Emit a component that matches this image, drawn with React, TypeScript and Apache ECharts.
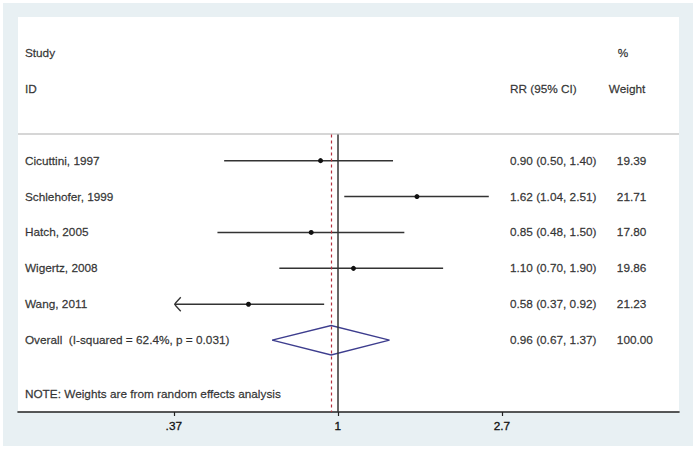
import React, { useEffect, useRef } from "react";
import * as echarts from "echarts";

const studies = ["Cicuttini, 1997", "Schlehofer, 1999", "Hatch, 2005", "Wigertz, 2008", "Wang, 2011"];
const rr = [0.9, 1.62, 0.85, 1.1, 0.58];
const lower = [0.5, 1.04, 0.48, 0.7, 0.37];
const upper = [1.4, 2.51, 1.5, 1.9, 0.92];
const weights = ["19.39", "21.71", "17.80", "19.86", "21.23"];
const overallLabel = "Overall  (I-squared = 62.4%, p = 0.031)";
const overallRR = 0.96;
const overallLower = 0.67;
const overallUpper = 1.37;
const overallWeight = "100.00";
const noteText = "NOTE: Weights are from random effects analysis";
const tickValues = [Math.exp(-1), 1, Math.exp(1)];
const tickLabels = [".37", "1", "2.7"];
const arrowLimit = 0.37;

// layout constants (log axis units / row units)
const X_MIN = -1.95;
const X_MAX = 2.08;
const COL_STUDY = -1.908;
const COL_EST = 1.049;
const COL_WEIGHT = 1.701;
const COL_WEIGHT_HEAD = 1.652;
const COL_PCT = 1.707;
const SEP_ROW = -0.76;

const FONT = "'Liberation Sans', Arial, sans-serif";
const TXT = "#111111";
const FS = 11.8;

export default function App() {
  const ref = useRef<HTMLDivElement>(null);
  useEffect(() => {
    if (!ref.current) return;
    const chart = echarts.init(ref.current, undefined, { renderer: "svg" });
    const ln = Math.log;
    const fmt = (e: number, l: number, u: number) => `${e.toFixed(2)} (${l.toFixed(2)}, ${u.toFixed(2)})`;
    const overallRow = studies.length;

    const texts: any[] = [];
    texts.push({ name: "Study", value: [COL_STUDY, -3] });
    texts.push({ name: "ID", value: [COL_STUDY, -2] });
    texts.push({ name: "%", value: [COL_PCT, -3] });
    texts.push({ name: "RR (95% CI)", value: [COL_EST, -2] });
    texts.push({ name: "Weight", value: [COL_WEIGHT_HEAD, -2] });
    studies.forEach((s, i) => {
      texts.push({ name: s, value: [COL_STUDY, i] });
      texts.push({ name: fmt(rr[i], lower[i], upper[i]), value: [COL_EST, i] });
      texts.push({ name: weights[i], value: [COL_WEIGHT, i] });
    });
    texts.push({ name: overallLabel, value: [COL_STUDY, overallRow] });
    texts.push({ name: fmt(overallRR, overallLower, overallUpper), value: [COL_EST, overallRow] });
    texts.push({ name: overallWeight, value: [COL_WEIGHT, overallRow] });
    texts.push({ name: noteText, value: [COL_STUDY, overallRow + 1.5] });

    const ciData = studies.map((_, i) => [i, ln(lower[i]), ln(rr[i]), ln(upper[i]), lower[i] <= arrowLimit ? 1 : 0]);
    const diamondData = [[overallRow, ln(overallLower), ln(overallRR), ln(overallUpper)]];
    const tickLn = tickValues.map((v) => ln(v));

    chart.setOption({
      animation: false,
      backgroundColor: "#e8f0f3",
      grid: { left: 15, right: 14, top: 14, bottom: 34, show: true, backgroundColor: "#ffffff", borderWidth: 0 },
      xAxis: {
        type: "value",
        min: X_MIN,
        max: X_MAX,
        splitLine: { show: false },
        axisLine: { show: true, onZero: false, lineStyle: { color: "#222", width: 1.6 } },
        axisTick: { show: true, customValues: tickLn, length: 4, lineStyle: { color: "#222", width: 1.2 } },
        axisLabel: {
          customValues: tickLn,
          margin: 8,
          fontSize: FS,
          fontFamily: FONT,
          color: TXT,
          textBorderColor: TXT,
          textBorderWidth: 0.3,
          formatter: (v: number) => {
            const idx = tickLn.findIndex((t) => Math.abs(t - v) < 1e-6);
            return idx >= 0 ? tickLabels[idx] : "";
          },
        },
      },
      yAxis: { type: "value", inverse: true, min: -4, max: 7, show: false },
      series: [
        {
          type: "scatter",
          symbolSize: 0,
          silent: true,
          data: texts,
          label: {
            show: true,
            position: "right",
            distance: 0,
            formatter: "{b}",
            fontSize: FS,
            fontFamily: FONT,
            color: TXT,
            textBorderColor: TXT,
            textBorderWidth: 0.3,
          },
          markLine: {
            silent: true,
            symbol: ["none", "none"],
            label: { show: false },
            data: [
              [
                { coord: [X_MIN, SEP_ROW], lineStyle: { color: "#c9c9c9", width: 1.5, type: "solid" } },
                { coord: [X_MAX, SEP_ROW] },
              ],
              [
                { coord: [0, SEP_ROW + 0.03], lineStyle: { color: "#333", width: 1.5, type: "solid" } },
                { coord: [0, 7] },
              ],
              [
                { coord: [ln(overallRR), SEP_ROW + 0.03], lineStyle: { color: "#b3303f", width: 1.2, type: [3, 3] } },
                { coord: [ln(overallRR), 7] },
              ],
            ],
          },
        },
        {
          type: "custom",
          silent: true,
          data: ciData,
          encode: { x: [1, 2, 3], y: 0 },
          renderItem: (params: any, api: any) => {
            const row = api.value(0);
            const p0 = api.coord([api.value(1), row]);
            const pe = api.coord([api.value(2), row]);
            const p1 = api.coord([api.value(3), row]);
            const children: any[] = [
              { type: "line", shape: { x1: p0[0], y1: p0[1], x2: p1[0], y2: p1[1] }, style: { stroke: "#333", lineWidth: 1.5 } },
              { type: "circle", shape: { cx: pe[0], cy: pe[1], r: 2.5 }, style: { fill: "#111" } },
            ];
            if (api.value(4)) {
              children.push({
                type: "polyline",
                shape: { points: [[p0[0] + 6, p0[1] - 7], [p0[0] + 1, p0[1] - 1.5], [p0[0], p0[1]], [p0[0] + 1, p0[1] + 1.5], [p0[0] + 6, p0[1] + 7]] },
                style: { stroke: "#333", lineWidth: 1.3, fill: "none" },
              });
            }
            return { type: "group", children };
          },
        },
        {
          type: "custom",
          silent: true,
          data: diamondData,
          encode: { x: [1, 2, 3], y: 0 },
          renderItem: (params: any, api: any) => {
            const row = api.value(0);
            const h = 0.41;
            const pts = [
              api.coord([api.value(1), row]),
              api.coord([api.value(2), row - h]),
              api.coord([api.value(3), row]),
              api.coord([api.value(2), row + h]),
            ];
            return { type: "polygon", shape: { points: pts }, style: { stroke: "#3d3d8e", lineWidth: 1.4, fill: "none" } };
          },
        },
      ],
    });
    return () => chart.dispose();
  }, []);
  return (
    <div style={{ position: "fixed", left: 0, top: 0, width: 697, height: 449, background: "#fff" }}>
      <div ref={ref} style={{ position: "absolute", left: 3, top: 3, width: 690, height: 443 }} />
    </div>
  );
}
